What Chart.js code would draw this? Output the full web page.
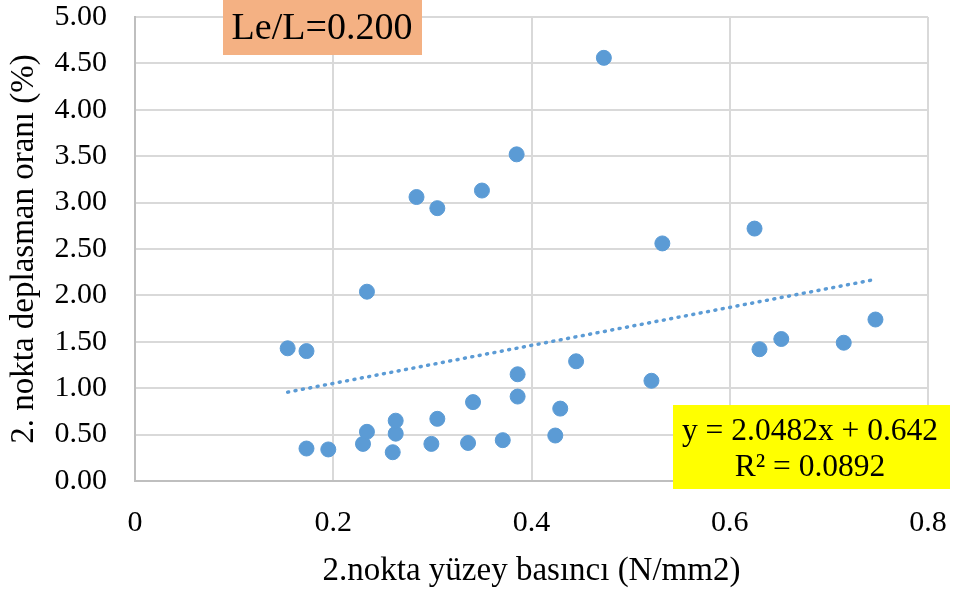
<!DOCTYPE html>
<html>
<head>
<meta charset="utf-8">
<script src="https://cdn.jsdelivr.net/npm/chart.js@4"></script>
<style>
  html, body { margin: 0; padding: 0; background: #fff; }
  #wrap { width: 957px; height: 594px; }
</style>
</head>
<body>
<div id="wrap"><canvas id="chart" width="957" height="594"></canvas></div>
<script>
// surface pressure at point 2 (N/mm2) vs displacement ratio (%)
var pressure = [0.154, 0.173, 0.173, 0.195, 0.230, 0.234, 0.234, 0.260, 0.263, 0.263,
                0.284, 0.299, 0.305, 0.305, 0.336, 0.341, 0.350, 0.371, 0.385, 0.386,
                0.386, 0.424, 0.429, 0.445, 0.473, 0.521, 0.532, 0.625, 0.630, 0.652,
                0.715, 0.747];
var displacement = [1.43, 1.40, 0.35, 0.34, 0.40, 0.53, 2.04, 0.31, 0.51, 0.65,
                    3.06, 0.40, 0.67, 2.94, 0.41, 0.85, 3.13, 0.44, 3.52, 1.15,
                    0.91, 0.49, 0.78, 1.29, 4.56, 1.08, 2.56, 2.72, 1.42, 1.53,
                    1.49, 1.74];
var slope = 2.0482, intercept = 0.642;
var xTicks = [0, 0.2, 0.4, 0.6, 0.8];
var yTicks = [0, 0.5, 1, 1.5, 2, 2.5, 3, 3.5, 4, 4.5, 5];

var points = pressure.map(function(x, i) { return { x: x, y: displacement[i] }; });
var xMin = Math.min.apply(null, pressure), xMax = Math.max.apply(null, pressure);
var trend = [xMin, xMax].map(function(x) { return { x: x, y: slope * x + intercept }; });

var serif = "'Liberation Serif', 'Times New Roman', serif";

// text boxes (label and trendline equation)
var boxes = {
  id: 'boxes',
  afterDraw: function(chart) {
    var c = chart.ctx;
    c.save();
    c.fillStyle = '#F4B183';
    c.fillRect(223, 0, 199, 55);
    c.fillStyle = '#000';
    c.font = '38px ' + serif;
    c.textAlign = 'center';
    c.textBaseline = 'middle';
    c.fillText('Le/L=0.200', 322, 29);

    c.fillStyle = '#FFFF00';
    c.fillRect(673, 405, 277, 84);
    c.fillStyle = '#000';
    c.font = '31.5px ' + serif;
    c.fillText('y = 2.0482x + 0.642', 810, 432);
    c.fillText('R\u00B2 = 0.0892', 810, 468);
    c.restore();
  }
};

new Chart(document.getElementById('chart'), {
  type: 'scatter',
  data: {
    datasets: [{
      data: points,
      backgroundColor: '#5B9BD5',
      borderColor: '#5B9BD5',
      pointRadius: 7.5,
      pointHoverRadius: 7.5,
      order: 1
    }, {
      type: 'line',
      data: trend,
      borderColor: '#5B9BD5',
      borderWidth: 3.5,
      borderDash: [1, 6.5],
      borderCapStyle: 'round',
      pointRadius: 0,
      fill: false,
      order: 2
    }]
  },
  options: {
    responsive: false,
    animation: false,
    layout: { padding: { top: 17, right: 29, left: 0, bottom: 0 } },
    plugins: { legend: { display: false }, tooltip: { enabled: false } },
    scales: {
      x: {
        type: 'linear',
        min: 0, max: 0.8,
        afterBuildTicks: function(axis) { axis.ticks = xTicks.map(function(v) { return { value: v }; }); },
        afterFit: function(axis) {
          axis.height = 113;
          axis.paddingLeft = 0;
          axis.paddingRight = 0;
        },
        grid: { color: '#D9D9D9', lineWidth: 2, drawTicks: false },
        border: { color: '#BFBFBF', width: 2 },
        ticks: {
          padding: 24,
          color: '#000',
          font: { family: serif, size: 30 },
          callback: function(v) { return String(v); }
        },
        title: {
          display: true,
          text: '2.nokta yüzey basıncı (N/mm2)',
          color: '#000',
          font: { family: serif, size: 33 },
          padding: { top: 0, bottom: 3 }
        }
      },
      y: {
        type: 'linear',
        min: 0, max: 5,
        afterBuildTicks: function(axis) { axis.ticks = yTicks.map(function(v) { return { value: v }; }); },
        afterFit: function(axis) {
          axis.width = 135;
          axis.paddingTop = 0;
          axis.paddingBottom = 0;
        },
        grid: { color: '#D9D9D9', lineWidth: 2, drawTicks: false },
        border: { color: '#BFBFBF', width: 2 },
        ticks: {
          padding: 28,
          color: '#000',
          font: { family: serif, size: 30 },
          callback: function(v) { return v.toFixed(2); }
        },
        title: {
          display: true,
          text: '2. nokta deplasman oranı (%)',
          color: '#000',
          font: { family: serif, size: 33 },
          padding: { top: 5, bottom: 0 }
        }
      }
    }
  },
  plugins: [boxes]
});
</script>
</body>
</html>
